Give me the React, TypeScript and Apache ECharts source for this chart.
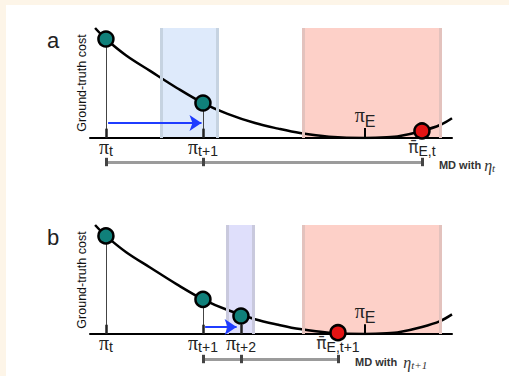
import React, { useEffect, useRef } from 'react';
import * as echarts from 'echarts';

// Ground-truth cost curve (shared by both panels)
const curveX = [1.4, 4.4, 10, 16.6, 24, 31.2, 38, 45.6, 52, 58, 66, 76, 82, 85.6, 91.7, 96.7, 100];
const curveY = [1.0, 0.9, 0.75, 0.61, 0.455, 0.318, 0.22, 0.136, 0.085, 0.045, 0.012, 0.0, 0.006, 0.018, 0.064, 0.118, 0.18];

// Panel a
const aTeal = [[4.4, 0.9], [31.2, 0.318]];
const aRedPt = [[91.7, 0.064]];
const aTickX = [4.4, 31.2, 91.7];
const aTickMain = ['π', 'π', 'π̄'];
const aTickSub = ['t', 't+1', 'E,t'];
const aRegion = [19.6, 35.1];
const aRedRegion = [58.8, 96.7];
const aRuler = [4.4, 31.2, 91.7];
const aArrow = [5.0, 30.8, 0.136];
const aMdText = 'MD with ';
const aMdSub = 't';

// Panel b
const bTeal = [[4.4, 0.9], [31.2, 0.318], [41.7, 0.165]];
const bRedPt = [[68.5, 0.012]];
const bTickX = [4.4, 31.2, 41.7, 68.5];
const bTickMain = ['π', 'π', 'π', 'π̄'];
const bTickSub = ['t', 't+1', 't+2', 'E,t+1'];
const bRegion = [37.8, 45.0];
const bRedRegion = [58.8, 96.7];
const bRuler = [31.2, 41.7, 68.5];
const bArrow = [31.8, 40.5, 0.064];
const bMdText = 'MD with  ';
const bMdSub = 't+1';

const piE = 76;

const TEAL = '#10807a';
const RED = '#e31414';
const BLUE = '#1f3cff';

const PI_FONT = 'Liberation Serif';

const labelRich = {
  p: { fontSize: 20, fontFamily: PI_FONT, color: '#222', lineHeight: 20 },
  q: { fontSize: 17, fontFamily: 'DejaVu Sans', color: '#333', lineHeight: 20 },
  s: { fontSize: 14, fontFamily: 'Liberation Sans', color: '#222', lineHeight: 14, padding: [8, 0, 0, 0] },
};

function panel(i: number, top: number, h: number, rulerTop: number, cfg: any) {
  const gi = i * 2;
  const grids = [
    { left: 90, width: 362, top, height: h },
    { left: 90, width: 362, top: rulerTop, height: 14 },
  ];
  const xAxes = [
    {
      type: 'value', gridIndex: gi, min: 0, max: 100, z: 4,
      axisLine: { onZero: false, lineStyle: { color: '#000', width: 2 } },
      axisTick: { show: false },
      splitLine: { show: false },
      axisLabel: {
        customValues: cfg.tickX,
        margin: -1,
        formatter: (v: number) => {
          const k = cfg.tickX.findIndex((x: number) => Math.abs(x - v) < 1e-6);
          if (k < 0) return '';
          const m = cfg.tickMain[k];
          return `{${m === 'π' ? 'p' : 'q'}|${m}}{s|${cfg.tickSub[k]}}`;
        },
        rich: labelRich,
      },
    },
    {
      type: 'value', gridIndex: gi + 1, min: 0, max: 100, show: false,
    },
  ];
  const hiddenY = (g: number) => ({
    type: 'value', gridIndex: g, min: 0, max: 1, show: false,
    axisLine: { show: false }, axisTick: { show: false }, axisLabel: { show: false }, splitLine: { show: false },
  });
  const yAxes = [hiddenY(gi), hiddenY(gi + 1)];
  const ax = { xAxisIndex: gi, yAxisIndex: gi };
  const rax = { xAxisIndex: gi + 1, yAxisIndex: gi + 1 };
  const seg = (x1: number, y1: number, x2: number, y2: number, ls: any) => [
    { coord: [x1, y1], lineStyle: ls },
    { coord: [x2, y2] },
  ];
  const series: any[] = [
    {
      type: 'line', ...ax, data: [], z: 1, silent: true,
      markArea: {
        silent: true,
        data: [
          [{ xAxis: cfg.region[0], yAxis: 0, itemStyle: { color: cfg.regionColor } }, { xAxis: cfg.region[1], yAxis: 1 }],
          [{ xAxis: cfg.redRegion[0], yAxis: 0, itemStyle: { color: '#fdd0c8' } }, { xAxis: cfg.redRegion[1], yAxis: 1 }],
        ],
      },
      markLine: {
        silent: true, symbol: ['none', 'none'], label: { show: false },
        data: [
          seg(cfg.region[0], 0, cfg.region[0], 1, { color: cfg.edgeColor, width: 3, type: 'solid' }),
          seg(cfg.region[1], 0, cfg.region[1], 1, { color: cfg.edgeColor, width: 3, type: 'solid' }),
          seg(cfg.redRegion[0], 0, cfg.redRegion[0], 1, { color: '#e3c2bd', width: 3, type: 'solid' }),
          seg(cfg.redRegion[1], 0, cfg.redRegion[1], 1, { color: '#e3c2bd', width: 3, type: 'solid' }),
        ],
      },
    },
    {
      type: 'line', ...ax, z: 3, smooth: 0.35, showSymbol: false, silent: true,
      data: curveX.map((x, k) => [x, curveY[k]]),
      lineStyle: { color: '#000', width: 2.5 },
    },
    {
      type: 'line', ...ax, data: [], z: 2, silent: true,
      markLine: {
        silent: true, symbol: ['none', 'none'],
        data: [
          ...cfg.teal.map((p: number[]) => seg(p[0], 0, p[0], p[1], { color: '#444', width: 1, type: 'solid' })),
          ...cfg.teal.map((p: number[]) => seg(p[0], 0, p[0], 0.085, { color: '#222', width: 2.5, type: 'solid' })),
          [
            { coord: [piE, 0], lineStyle: { color: '#000', width: 2, type: 'solid' },
              label: { show: true, position: 'end', distance: 0, formatter: '{p|π}{e|E}',
                rich: {
                  p: { fontSize: 20, fontFamily: PI_FONT, color: '#222', lineHeight: 20, padding: [0, 0, 6, 0] },
                  e: { fontSize: 16, fontFamily: 'Liberation Sans', color: '#222', lineHeight: 14, padding: [6, 0, 0, 0] },
                } } },
            { coord: [piE, 0.09] },
          ],
        ],
        label: { show: false },
      },
    },
    {
      type: 'line', ...rax, data: [], z: 5, silent: true,
      markLine: {
        silent: true, symbol: ['none', 'none'], label: { show: false },
        data: [
          [
            { coord: [cfg.ruler[0], 0.5], lineStyle: { color: '#9b9b9b', width: 3, type: 'solid' },
              label: { show: true, position: 'end', distance: 17,
                formatter: `{b|${cfg.mdText}}{e|η}{s|${cfg.mdSub}}`,
                rich: {
                  b: { fontSize: 11, fontWeight: 'bold', fontFamily: 'Liberation Sans', color: '#333', lineHeight: 16, padding: [6, 0, 0, 0] },
                  e: { fontSize: 16, fontStyle: 'italic', fontFamily: 'Liberation Serif', color: '#333', lineHeight: 16, padding: [6, 0, 0, 0] },
                  s: { fontSize: 11, fontStyle: 'italic', fontFamily: 'Liberation Serif', color: '#333', lineHeight: 12, padding: [11, 0, 0, 0] },
                } } },
            { coord: [cfg.ruler[cfg.ruler.length - 1], 0.5] },
          ],
          ...cfg.ruler.map((x: number) => seg(x, 0.2, x, 0.8, { color: '#444', width: 3, type: 'solid' })),
        ],
      },
    },
    {
      type: 'line', ...ax, data: [], z: 5, silent: true,
      markLine: {
        silent: true, symbol: ['none', 'arrow'], symbolSize: 12, label: { show: false },
        data: [seg(cfg.arrow[0], cfg.arrow[2], cfg.arrow[1], cfg.arrow[2], { color: BLUE, width: 2, type: 'solid' })],
      },
    },
    {
      type: 'scatter', ...ax, z: 6, silent: true, symbolSize: 15,
      data: cfg.teal,
      itemStyle: { color: TEAL, borderColor: '#000', borderWidth: 2.5, opacity: 1 },
    },
    {
      type: 'scatter', ...ax, z: 6, silent: true, symbolSize: 15,
      data: cfg.red,
      itemStyle: { color: RED, borderColor: '#000', borderWidth: 2.5, opacity: 1 },
    },
  ];
  return { grids, xAxes, yAxes, series };
}

export default function App() {
  const ref = useRef<HTMLDivElement>(null);
  useEffect(() => {
    if (!ref.current) return;
    const chart = echarts.init(ref.current, undefined, { renderer: 'svg' });
    const pa = panel(0, 28, 110, 155, {
      tickX: aTickX, tickMain: aTickMain, tickSub: aTickSub, region: aRegion, redRegion: aRedRegion,
      regionColor: '#deeafb', edgeColor: '#c6d3e1', teal: aTeal, red: aRedPt, ruler: aRuler, arrow: aArrow,
      mdText: aMdText, mdSub: aMdSub,
    });
    const pb = panel(1, 225, 109, 352, {
      tickX: bTickX, tickMain: bTickMain, tickSub: bTickSub, region: bRegion, redRegion: bRedRegion,
      regionColor: '#dfdffb', edgeColor: '#c9c9dd', teal: bTeal, red: bRedPt, ruler: bRuler, arrow: bArrow,
      mdText: bMdText, mdSub: bMdSub,
    });
    const yName = (y: number) => ({
      type: 'text', x: 82, y, rotation: Math.PI / 2,
      style: { text: 'Ground-truth cost', fontSize: 12.5, fontFamily: 'Liberation Sans', fill: '#111', align: 'center', verticalAlign: 'middle' },
    });
    chart.setOption({
      animation: false,
      backgroundColor: '#ffffff',
      grid: [...pa.grids, ...pb.grids],
      xAxis: [...pa.xAxes, ...pb.xAxes],
      yAxis: [...pa.yAxes, ...pb.yAxes],
      series: [...pa.series, ...pb.series],
      graphic: [
        { type: 'rect', shape: { x: 0, y: 0, width: 509, height: 5 }, style: { fill: '#fdf5e8' }, z: 10 },
        { type: 'rect', shape: { x: 0, y: 0, width: 6, height: 376 }, style: { fill: '#fdf5e8' }, z: 10 },
        { type: 'text', x: 47, y: 29, style: { text: 'a', fontSize: 22, fontFamily: 'Liberation Sans', fill: '#222' } },
        { type: 'text', x: 47, y: 226, style: { text: 'b', fontSize: 22, fontFamily: 'Liberation Sans', fill: '#222' } },
        yName(83),
        yName(280),
      ],
    });
    return () => chart.dispose();
  }, []);
  return <div ref={ref} style={{ position: 'fixed', left: 0, top: 0, width: 509, height: 376 }} />;
}
